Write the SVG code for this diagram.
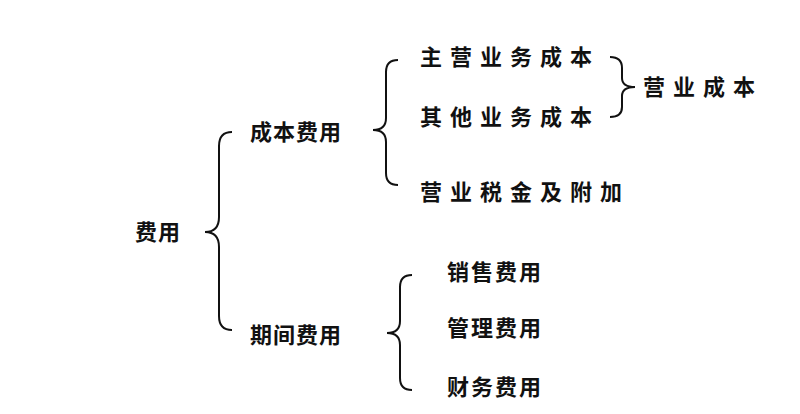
<svg xmlns="http://www.w3.org/2000/svg" width="800" height="414" viewBox="0 0 800 414">
<style>
text{font-family:"Noto Sans CJK SC",sans-serif;font-weight:bold;font-size:22px;fill:#111;dominant-baseline:central;letter-spacing:1px}
.w{letter-spacing:8px}
.m{letter-spacing:2px}
.b{fill:none;stroke:#111;stroke-width:2}
</style>
<rect width="800" height="414" fill="#fff"/>
<g id="connectors">
<path class="b" d="M232,132 Q219,132 219,146 L219,217 Q219,232 205,232 Q219,232 219,247 L219,316 Q219,330 232,330"/>
<path class="b" d="M398,60 Q386,60 386,72 L386,118 Q386,130 373,130 Q386,130 386,142 L386,173 Q386,185 398,185"/>
<path class="b" d="M412,275 Q400,275 400,287 L400,321 Q400,333 387,333 Q400,333 400,345 L400,378 Q400,390 412,390"/>
<path class="b" d="M610,57 Q622,57 622,68 L622,78 Q622,87 635,87 Q622,87 622,96 L622,107 Q622,117 610,117"/>
</g>
<g id="n0"><text x="135" y="230">费用</text></g>
<g id="n1"><text x="250" y="130">成本费用</text></g>
<g id="n2"><text x="250" y="333">期间费用</text></g>
<g id="n3"><text class="w" x="420" y="55">主营业务成本</text></g>
<g id="n4"><text class="w" x="420" y="115">其他业务成本</text></g>
<g id="n5"><text class="w" x="420" y="190">营业税金及附加</text></g>
<g id="n6"><text class="w" x="643" y="85">营业成本</text></g>
<g id="n7"><text class="m" x="447" y="270">销售费用</text></g>
<g id="n8"><text class="m" x="447" y="326">管理费用</text></g>
<g id="n9"><text class="m" x="447" y="385">财务费用</text></g>
</svg>
